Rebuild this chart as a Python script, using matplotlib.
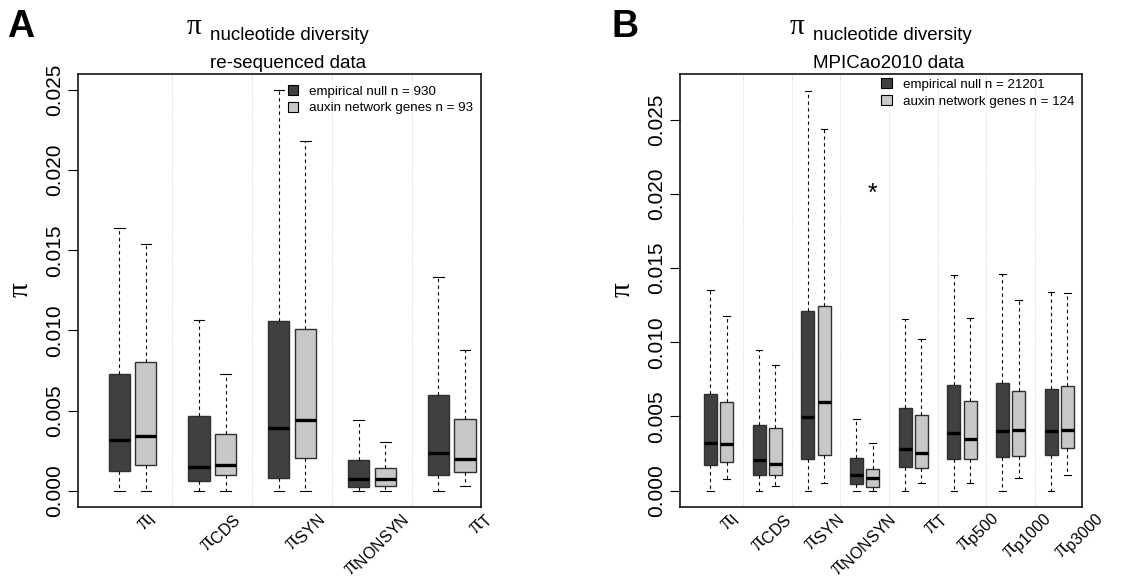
import matplotlib.pyplot as plt
import matplotlib.transforms as mtransforms
from matplotlib.patches import Patch
import numpy as np

plt.rcParams['font.family'] = ['Liberation Sans', 'DejaVu Sans']
plt.rcParams['mathtext.fontset'] = 'custom'
plt.rcParams['mathtext.rm'] = 'Liberation Serif'
plt.rcParams['mathtext.it'] = 'Liberation Serif:italic'
plt.rcParams['mathtext.sf'] = 'Liberation Sans'

# panel A - re-sequenced data
cats_a = ['I', 'CDS', 'SYN', 'NONSYN', 'T']
a_null_lo = [0, 0, 0, 0, 0]
a_null_q1 = [0.00125, 0.0006, 0.00079, 0.00023, 0.00098]
a_null_med = [0.00314, 0.00148, 0.00388, 0.00073, 0.00238]
a_null_q3 = [0.00731, 0.00463, 0.01058, 0.00194, 0.00594]
a_null_hi = [0.0164, 0.01063, 0.0250, 0.00441, 0.01331]
a_aux_lo = [0, 0, 0, 0, 0.00031]
a_aux_q1 = [0.00163, 0.001, 0.00206, 0.00027, 0.00116]
a_aux_med = [0.00339, 0.00158, 0.00438, 0.00073, 0.00196]
a_aux_q3 = [0.0080, 0.00354, 0.01006, 0.00144, 0.00448]
a_aux_hi = [0.01539, 0.00727, 0.02181, 0.00304, 0.00879]

# panel B - MPICao2010 data
cats_b = ['I', 'CDS', 'SYN', 'NONSYN', 'T', 'p500', 'p1000', 'p3000']
b_null_lo = [0, 0, 0, 0, 0, 0, 0, 0]
b_null_q1 = [0.00173, 0.00103, 0.00216, 0.00043, 0.0016, 0.00216, 0.00227, 0.00239]
b_null_med = [0.00324, 0.00207, 0.00497, 0.00103, 0.00284, 0.00387, 0.00405, 0.00405]
b_null_q3 = [0.00649, 0.00443, 0.01211, 0.00223, 0.00558, 0.00714, 0.00723, 0.00682]
b_null_hi = [0.01355, 0.0095, 0.0269, 0.00484, 0.01157, 0.01455, 0.01461, 0.01342]
b_aux_lo = [0.00078, 0.00031, 0.00054, 0, 0.00054, 0.00051, 0.00083, 0.00105]
b_aux_q1 = [0.00193, 0.00105, 0.00243, 0.00027, 0.00155, 0.00216, 0.00236, 0.00286]
b_aux_med = [0.00315, 0.00182, 0.00595, 0.00085, 0.00252, 0.00351, 0.00407, 0.00412]
b_aux_q3 = [0.00595, 0.00421, 0.01245, 0.00149, 0.00509, 0.00605, 0.00669, 0.00705]
b_aux_hi = [0.0118, 0.00849, 0.02439, 0.0032, 0.01022, 0.01164, 0.01286, 0.01331]
star_cat = 'NONSYN'
star_y = 0.020

dark = '#404040'
light = '#c8c8c8'


def stats(lo, q1, med, q3, hi):
    return [dict(whislo=a, q1=b, med=c, q3=d, whishi=e, fliers=[])
            for a, b, c, d, e in zip(lo, q1, med, q3, hi)]


def panel(ax, cats, null, aux, n_null, n_aux, ylim, xlim, lab_x, leg_y):
    n = len(cats)
    pos = np.arange(n) * 3 + 1
    for st, p, col in [(null, pos, dark), (aux, pos + 1, light)]:
        ax.bxp(stats(*st), positions=p, widths=0.8, capwidths=0.4,
               showfliers=False, patch_artist=True,
               boxprops=dict(facecolor=col, edgecolor='#303030', linewidth=1.0),
               whiskerprops=dict(color='black', linestyle=(0, (3, 3)), linewidth=0.8),
               capprops=dict(color='black', linewidth=0.8),
               medianprops=dict(color='black', linewidth=2.4, solid_capstyle='butt'))
    for s in np.arange(1, n) * 3:
        ax.axvline(s, color='#cfcfcf', linestyle=':', linewidth=0.7, zorder=0)
    ax.set_xlim(*xlim)
    ax.set_ylim(*ylim)
    ax.set_xticks([])
    ax.set_yticks(np.arange(0, 0.0251, 0.005))
    ax.set_yticklabels(['%.3f' % v for v in np.arange(0, 0.0251, 0.005)],
                       rotation=90, va='center', fontsize=15)
    ax.tick_params(axis='y', length=7, width=0.8, pad=3)
    for sp in ax.spines.values():
        sp.set_linewidth(1.1)
    ax.set_ylabel(r'$\mathrm{\pi}$', fontsize=21, labelpad=8)
    trans = mtransforms.blended_transform_factory(ax.transData, ax.transAxes) + \
        mtransforms.ScaledTranslation(0, -0.08, fig.dpi_scale_trans)
    for x, c in zip(lab_x, cats):
        ax.text(x, 0, r'$\mathrm{\pi}_{\mathsf{%s}}$' % c, transform=trans,
                rotation=45, ha='right', va='center', rotation_mode='anchor',
                fontsize=16.5, clip_on=False)
    handles = [Patch(facecolor=dark, edgecolor='black', linewidth=0.8),
               Patch(facecolor=light, edgecolor='black', linewidth=0.8)]
    ax.legend(handles, ['empirical null n = %d' % n_null,
                        'auxin network genes n = %d' % n_aux],
              loc='upper right', bbox_to_anchor=(1.0, leg_y), frameon=False,
              fontsize=9.6, handlelength=0.8, handleheight=0.8, handletextpad=0.8,
              labelspacing=0.3, borderaxespad=0.2)
    return pos


fig = plt.figure(figsize=(11.21, 5.78), dpi=100)
ax1 = fig.add_axes([0.0696, 0.1234, 0.3595, 0.7486])
ax2 = fig.add_axes([0.6066, 0.1234, 0.3586, 0.7486])

panel(ax1, cats_a,
      (a_null_lo, a_null_q1, a_null_med, a_null_q3, a_null_hi),
      (a_aux_lo, a_aux_q1, a_aux_med, a_aux_q3, a_aux_hi),
      930, 93, (-0.001, 0.026), (-0.55, 14.6), np.linspace(2.23, 14.86, 5), 0.993)
pos_b = panel(ax2, cats_b,
              (b_null_lo, b_null_q1, b_null_med, b_null_q3, b_null_hi),
              (b_aux_lo, b_aux_q1, b_aux_med, b_aux_q3, b_aux_hi),
              21201, 124, (-0.00108, 0.02808), (-0.88, 23.9), np.linspace(2.51, 25.0, 8),
              1.009)
ax2.text(pos_b[cats_b.index(star_cat)] + 1, star_y, '*', ha='center', va='center',
         fontsize=18)

# titles
fig.text(194 / 1121, 1 - 34 / 578, r'$\mathrm{\pi}$', fontsize=21, ha='center', va='baseline')
fig.text(289 / 1121, 1 - 40 / 578, 'nucleotide diversity', fontsize=13.5, ha='center', va='baseline')
fig.text(288 / 1121, 1 - 68 / 578, 're-sequenced data', fontsize=13.5, ha='center', va='baseline')
fig.text(797 / 1121, 1 - 34 / 578, r'$\mathrm{\pi}$', fontsize=21, ha='center', va='baseline')
fig.text(892 / 1121, 1 - 40 / 578, 'nucleotide diversity', fontsize=13.5, ha='center', va='baseline')
fig.text(889 / 1121, 1 - 68 / 578, 'MPICao2010 data', fontsize=13.5, ha='center', va='baseline')
fig.text(7 / 1121, 1 - 37 / 578, 'A', fontsize=27, fontweight='bold', ha='left', va='baseline')
fig.text(611 / 1121, 1 - 37 / 578, 'B', fontsize=27, fontweight='bold', ha='left', va='baseline')

fig.savefig('out.png', dpi=100)
